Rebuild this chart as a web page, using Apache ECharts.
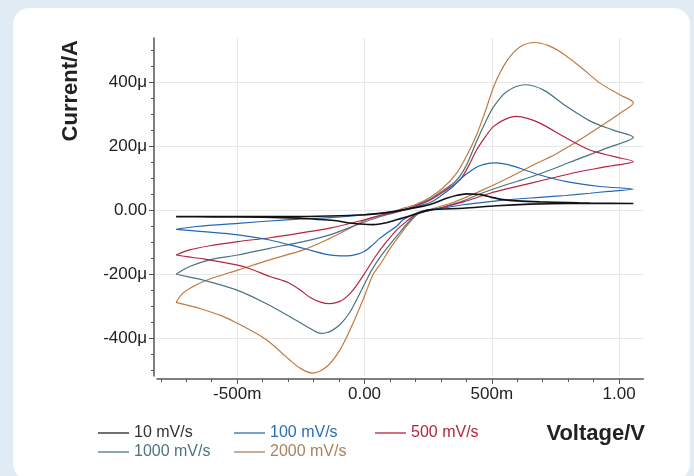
<!DOCTYPE html>
<html>
<head>
<meta charset="utf-8">
<script src="https://cdn.jsdelivr.net/npm/echarts@6/dist/echarts.min.js"></script>
<style>
  html, body { margin: 0; padding: 0; background: #e0ebf4; width: 694px; height: 476px; overflow: hidden; }
  #card { position: absolute; left: 13px; top: 8px; width: 677px; height: 472px; background: #ffffff; border-radius: 16px; }
  #chart { position: absolute; left: 0; top: 0; width: 694px; height: 476px; }
</style>
</head>
<body>
<div id="card"></div>
<div id="chart"></div>
<script>
// Scan-rate labels (legend)
const seriesNames = ['10 mV/s', '100 mV/s', '500 mV/s', '1000 mV/s', '2000 mV/s'];

// Cyclic voltammograms: [potential (V), current (µA)], forward scan then reverse scan
const cv10 = [
  [-0.74,-20],[-0.5,-20],[-0.3,-20],[-0.136,-18],[0,-14],[0.07,-9],[0.126,-3],[0.2,8],[0.257,18],[0.322,37],[0.36,46],[0.401,51],[0.44,50],[0.466,47],[0.5,40],[0.545,33],[0.6,29],[0.689,26],[0.8,24],[0.885,22],[1.056,21],
  [0.8,21],[0.65,19],[0.519,14],[0.388,6],[0.257,1],[0.204,-11],[0.16,-22],[0.126,-30],[0.08,-40],[0.034,-45],[-0.018,-43],[-0.058,-40],[-0.11,-33],[-0.176,-29],[-0.254,-25],[-0.4,-22],[-0.6,-21],[-0.74,-20]
];
const cv100 = [
  [-0.74,-60],[-0.66,-51],[-0.497,-41],[-0.307,-30],[-0.136,-23],[0,-15],[0.07,-9],[0.126,-3],[0.19,8],[0.257,24],[0.3,45],[0.348,74],[0.38,100],[0.414,121],[0.45,138],[0.493,147],[0.519,148],[0.56,143],[0.61,131],[0.689,110],[0.794,89],[0.925,74],[1.056,66],
  [0.96,59],[0.885,53],[0.79,46],[0.689,40],[0.6,35],[0.519,29],[0.45,23],[0.388,17],[0.31,7],[0.23,-2],[0.19,-14],[0.152,-30],[0.126,-50],[0.09,-70],[0.06,-88],[0.03,-110],[0,-128],[-0.035,-139],[-0.071,-143],[-0.11,-142],[-0.149,-138],[-0.241,-119],[-0.372,-93],[-0.497,-77],[-0.634,-67],[-0.74,-60]
];
const cv500 = [
  [-0.74,-140],[-0.687,-124],[-0.608,-111],[-0.497,-98],[-0.372,-86],[-0.241,-70],[-0.136,-56],[0,-30],[0.07,-15],[0.14,-2],[0.2,13],[0.26,33],[0.31,58],[0.375,95],[0.41,140],[0.44,188],[0.475,230],[0.506,261],[0.55,283],[0.597,293],[0.64,287],[0.689,272],[0.794,225],[0.885,188],[0.977,168],[1.056,152],
  [0.951,136],[0.846,121],[0.75,103],[0.65,84],[0.55,65],[0.493,53],[0.388,26],[0.3,7],[0.25,-2],[0.204,-12],[0.165,-35],[0.126,-62],[0.085,-100],[0.047,-140],[0,-198],[-0.045,-250],[-0.075,-274],[-0.097,-285],[-0.136,-292],[-0.17,-288],[-0.215,-272],[-0.241,-256],[-0.3,-226],[-0.372,-207],[-0.45,-183],[-0.503,-171],[-0.634,-152],[-0.7,-145],[-0.74,-140]
];
const cv1000 = [
  [-0.74,-200],[-0.687,-176],[-0.608,-155],[-0.497,-140],[-0.372,-119],[-0.241,-98],[-0.136,-77],[0,-37],[0.07,-18],[0.14,-3],[0.2,14],[0.26,36],[0.31,62],[0.36,92],[0.4,140],[0.44,215],[0.475,275],[0.506,322],[0.558,370],[0.63,392],[0.702,376],[0.794,324],[0.885,279],[0.977,250],[1.056,228],
  [0.951,194],[0.846,162],[0.75,132],[0.65,103],[0.55,78],[0.45,50],[0.388,29],[0.3,8],[0.25,-2],[0.205,-13],[0.17,-40],[0.13,-78],[0.095,-112],[0.06,-148],[0.03,-185],[0.008,-218],[-0.031,-280],[-0.06,-322],[-0.097,-358],[-0.13,-377],[-0.15,-383],[-0.169,-385],[-0.19,-380],[-0.215,-369],[-0.294,-332],[-0.385,-292],[-0.503,-249],[-0.634,-218],[-0.7,-207],[-0.74,-200]
];
const cv2000 = [
  [-0.74,-288],[-0.713,-259],[-0.66,-233],[-0.608,-215],[-0.497,-187],[-0.372,-155],[-0.241,-124],[-0.136,-88],[-0.071,-62],[0,-32],[0.07,-14],[0.14,3],[0.2,18],[0.257,40],[0.309,70],[0.362,116],[0.4,168],[0.44,235],[0.475,310],[0.512,395],[0.558,465],[0.61,510],[0.669,524],[0.72,515],[0.77,494],[0.846,449],[0.925,397],[1.004,360],[1.056,336],
  [1.004,303],[0.925,261],[0.846,220],[0.75,175],[0.65,136],[0.55,95],[0.45,58],[0.35,25],[0.26,3],[0.21,-12],[0.17,-45],[0.135,-82],[0.1,-120],[0.065,-165],[0.034,-200],[0,-268],[-0.045,-353],[-0.097,-437],[-0.15,-490],[-0.205,-509],[-0.25,-495],[-0.294,-468],[-0.33,-442],[-0.385,-405],[-0.44,-378],[-0.5,-353],[-0.56,-330],[-0.647,-307],[-0.7,-296],[-0.74,-288]
];

// Axis ticks
const xTickValues = [-0.5, 0, 0.5, 1.0];
const xTickLabels = ['-500m', '0.00', '500m', '1.00'];
const yTickValues = [-400, -200, 0, 200, 400];
const yTickLabels = ['-400μ', '-200μ', '0.00', '200μ', '400μ'];

const lineColors = ['#111111', '#2368b5', '#b3263f', '#4b7382', '#c17a3f'];
const legendTextColors = ['#333333', '#2a6db5', '#b3263f', '#4e7482', '#a98262'];
const legendLineColors = ['#222222', '#2a6db5', '#b3263f', '#4e7482', '#a98262'];
const legendPos = [[98, 425], [234, 425], [375, 425], [98, 444], [234, 444]];
const allData = [cv10, cv100, cv500, cv1000, cv2000];

const FONT = 'Liberation Sans, Arial, Helvetica, sans-serif';

function labelFor(values, labels) {
  return function (v) {
    for (let i = 0; i < values.length; i++) {
      if (Math.abs(values[i] - v) < 1e-9) return labels[i];
    }
    return '';
  };
}

const chart = echarts.init(document.getElementById('chart'), null, { renderer: 'canvas' });

const legends = seriesNames.map((name, i) => ({
  show: true,
  left: legendPos[i][0],
  top: legendPos[i][1],
  padding: 0,
  icon: 'rect',
  itemWidth: 31,
  itemHeight: 1.3,
  selectedMode: false,
  textStyle: { fontFamily: FONT, fontSize: 16, color: legendTextColors[i] },
  data: [{ name: name, itemStyle: { color: legendLineColors[i] } }]
}));

const option = {
  animation: false,
  backgroundColor: 'transparent',
  grid: { left: 157, right: 50.7, top: 38, bottom: 100, containLabel: false },
  legend: legends,
  xAxis: {
    type: 'value',
    min: -0.815,
    max: 1.095,
    minInterval: 0.5,
    maxInterval: 0.5,
    offset: 3,
    axisLine: { show: true, onZero: false, lineStyle: { color: '#555', width: 1.5 } },
    axisTick: { show: true, length: 5, customValues: xTickValues, lineStyle: { color: '#555', width: 1 } },
    minorTick: { show: true, splitNumber: 5, length: 3, lineStyle: { color: '#555', width: 1 } },
    axisLabel: { customValues: xTickValues, margin: 7, fontFamily: FONT, fontSize: 17, color: '#222',
      formatter: labelFor(xTickValues, xTickLabels) },
    splitLine: { show: true, lineStyle: { color: '#e8e8e8', width: 1 } }
  },
  yAxis: {
    type: 'value',
    min: -518,
    max: 538,
    minInterval: 200,
    maxInterval: 200,
    offset: 3,
    axisLine: { show: true, onZero: false, lineStyle: { color: '#555', width: 1.5 } },
    axisTick: { show: true, length: 5, customValues: yTickValues, lineStyle: { color: '#555', width: 1 } },
    minorTick: { show: true, splitNumber: 4, length: 3, lineStyle: { color: '#555', width: 1 } },
    axisLabel: { customValues: yTickValues, margin: 7, fontFamily: FONT, fontSize: 17, color: '#222',
      formatter: labelFor(yTickValues, yTickLabels) },
    splitLine: { show: true, lineStyle: { color: '#e8e8e8', width: 1 } }
  },
  graphic: [
    { type: 'text', x: 71, y: 40, rotation: Math.PI / 2,
      style: { text: 'Current/A', textAlign: 'right', textVerticalAlign: 'middle',
        font: 'bold 22px ' + FONT, fill: '#222' } },
    { type: 'text', x: 645, y: 434,
      style: { text: 'Voltage/V', textAlign: 'right', textVerticalAlign: 'middle',
        font: 'bold 22px ' + FONT, fill: '#222' } }
  ],
  series: seriesNames.map((name, i) => ({
    name: name,
    type: 'line',
    data: allData[i],
    showSymbol: false,
    symbol: 'none',
    smooth: 0.3,
    clip: true,
    lineStyle: { color: lineColors[i], width: i === 0 ? 1.6 : 1.2 },
    itemStyle: { color: lineColors[i] },
    z: 10 - i
  }))
};

chart.setOption(option);
</script>
</body>
</html>
